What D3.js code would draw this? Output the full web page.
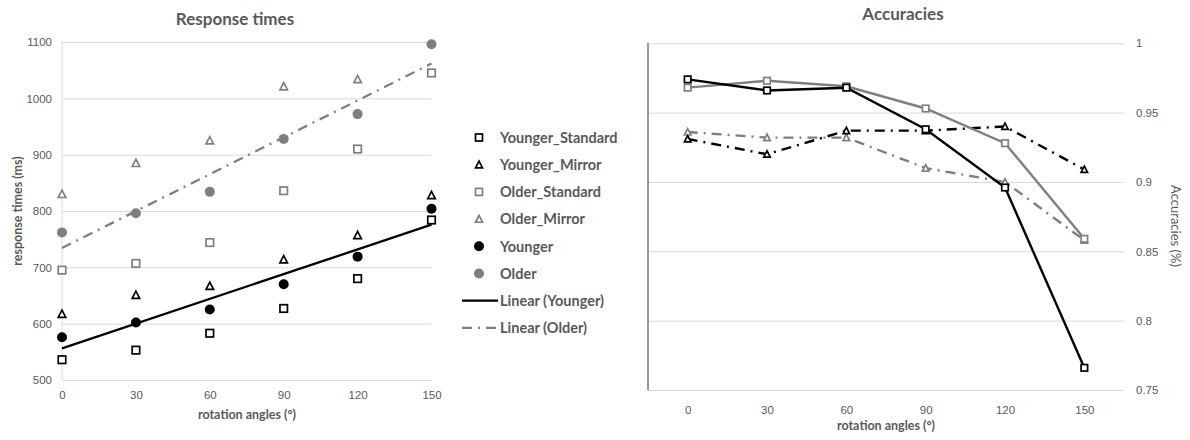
<!DOCTYPE html>
<html>
<head>
<meta charset="utf-8">
<script src="https://cdn.jsdelivr.net/npm/d3@7"></script>
<style>
  body { margin: 0; background: #fff; }
  svg { font-family: Lato, "Open Sans", sans-serif; }
</style>
</head>
<body>
<svg id="chart" width="1190" height="440"></svg>
<script>
// data
var angles = [0, 30, 60, 90, 120, 150];

var rtYoungerStandard = [536, 553, 583, 627, 680, 784];
var rtYoungerMirror   = [617, 651, 667, 714, 757, 828];
var rtOlderStandard   = [695, 707, 744, 836, 910, 1045];
var rtOlderMirror     = [830, 885, 925, 1021, 1034, 1147];
var rtYounger         = [576, 602, 625, 670, 719, 804];
var rtOlder           = [762, 796, 834, 928, 972, 1096];
var rtTicks = [500, 600, 700, 800, 900, 1000, 1100];

var accYoungerStandard = [0.974, 0.966, 0.968, 0.938, 0.896, 0.766];
var accYoungerMirror   = [0.931, 0.920, 0.937, 0.937, 0.940, 0.909];
var accOlderStandard   = [0.968, 0.973, 0.969, 0.953, 0.928, 0.859];
var accOlderMirror     = [0.936, 0.932, 0.932, 0.910, 0.900, 0.858];
var accTicks = [0.75, 0.8, 0.85, 0.9, 0.95, 1];

var legendNames = ["Younger_Standard", "Younger_Mirror", "Older_Standard", "Older_Mirror",
                   "Younger", "Older", "Linear (Younger)", "Linear (Older)"];

var BLACK = "#000", GRAY = "#7f7f7f", TXT = "#595959", GRID = "#d9d9d9";
var DASHDOT = "10,6,2,6";

var svg = d3.select("#chart");

// marker helpers
function marker(g, type, color, x, y, size) {
  if (type == "square") {
    g.append("rect").attr("x", x - size / 2).attr("y", y - size / 2)
      .attr("width", size).attr("height", size)
      .attr("fill", "#fff").attr("stroke", color).attr("stroke-width", 1.7);
  } else if (type == "triangle") {
    var h = size * 0.9;
    g.append("path")
      .attr("d", `M${x},${y - h / 2 - 0.5}L${x + size / 2},${y + h / 2}L${x - size / 2},${y + h / 2}Z`)
      .attr("fill", "#fff").attr("stroke", color).attr("stroke-width", 1.7);
  } else {
    g.append("circle").attr("cx", x).attr("cy", y).attr("r", size / 2)
      .attr("fill", color);
  }
}

function linearFit(xs, ys) {
  var mx = d3.mean(xs), my = d3.mean(ys);
  var num = d3.sum(xs, (d, i) => (d - mx) * (ys[i] - my));
  var den = d3.sum(xs, d => (d - mx) * (d - mx));
  var slope = num / den;
  return {slope: slope, intercept: my - slope * mx};
}

// ---------------- RESPONSE TIMES ----------------
(function () {
  var x = d3.scaleLinear().domain([0, 150]).range([62, 431.5]);
  var y = d3.scaleLinear().domain([500, 1100]).range([380, 42]);

  var g = svg.append("g");

  svg.append("defs").append("clipPath").attr("id", "clipRT")
    .append("rect").attr("x", 50).attr("y", 36).attr("width", 400).attr("height", 350);

  g.append("g")
    .attr("transform", "translate(62,0)")
    .call(d3.axisLeft(y).tickValues(rtTicks).tickFormat(d3.format("d"))
      .tickSize(-(431.5 - 62)).tickPadding(10))
    .call(a => a.select(".domain").remove())
    .call(a => a.selectAll("line").attr("stroke", GRID))
    .call(a => a.selectAll("text").attr("fill", TXT).style("font-size", "11.5px"));

  g.append("line").attr("x1", 62).attr("x2", 62).attr("y1", 42).attr("y2", 380)
    .attr("stroke", GRID);

  g.append("g")
    .attr("transform", "translate(0,380)")
    .call(d3.axisBottom(x).tickValues(angles).tickSize(0).tickPadding(11))
    .call(a => a.select(".domain").attr("stroke", GRID))
    .call(a => a.selectAll("text").attr("fill", TXT).style("font-size", "11.5px"));

  var plot = g.append("g").attr("clip-path", "url(#clipRT)");

  // trend lines
  var fits = [
    {fit: linearFit(angles, rtYounger), color: BLACK, dash: null},
    {fit: linearFit(angles, rtOlder), color: GRAY, dash: DASHDOT}
  ];
  fits.forEach(function (f) {
    plot.append("line")
      .attr("x1", x(0)).attr("y1", y(f.fit.intercept))
      .attr("x2", x(150)).attr("y2", y(f.fit.intercept + f.fit.slope * 150))
      .attr("stroke", f.color).attr("stroke-width", 2.3)
      .attr("stroke-dasharray", f.dash);
  });

  var series = [
    {v: rtYoungerStandard, type: "square", color: BLACK, size: 7.5},
    {v: rtYoungerMirror, type: "triangle", color: BLACK, size: 7.5},
    {v: rtOlderStandard, type: "square", color: GRAY, size: 7.5},
    {v: rtOlderMirror, type: "triangle", color: GRAY, size: 7.5},
    {v: rtYounger, type: "circle", color: BLACK, size: 10},
    {v: rtOlder, type: "circle", color: GRAY, size: 10}
  ];
  series.forEach(function (s) {
    s.v.forEach(function (d, i) { marker(plot, s.type, s.color, x(angles[i]), y(d), s.size); });
  });

  g.append("text").attr("x", 235).attr("y", 25).attr("text-anchor", "middle")
    .attr("fill", TXT).style("font-size", "17px").style("font-weight", "bold")
    .text("Response times");

  g.append("text").attr("x", 247).attr("y", 419).attr("text-anchor", "middle")
    .attr("fill", TXT).style("font-size", "12.5px").style("font-weight", "bold")
    .text("rotation angles (°)");

  g.append("text").attr("transform", "translate(22,211) rotate(-90)").attr("text-anchor", "middle")
    .attr("fill", TXT).style("font-size", "12.5px").style("font-weight", "bold")
    .text("response times (ms)");

  // legend
  var lg = svg.append("g");
  var legendMarks = [
    {type: "square", color: BLACK, size: 7},
    {type: "triangle", color: BLACK, size: 7},
    {type: "square", color: GRAY, size: 7},
    {type: "triangle", color: GRAY, size: 7},
    {type: "circle", color: BLACK, size: 10},
    {type: "circle", color: GRAY, size: 10},
    {type: "line", color: BLACK, dash: null},
    {type: "line", color: GRAY, dash: DASHDOT}
  ];
  legendNames.forEach(function (name, i) {
    var ly = 137.5 + i * 27.2;
    var m = legendMarks[i];
    if (m.type == "line") {
      lg.append("line").attr("x1", 462).attr("x2", 498).attr("y1", ly).attr("y2", ly)
        .attr("stroke", m.color).attr("stroke-width", 2.3).attr("stroke-dasharray", m.dash);
    } else {
      marker(lg, m.type, m.color, 479, ly, m.size);
    }
    lg.append("text").attr("x", 500).attr("y", ly).attr("dy", "0.36em")
      .attr("fill", TXT).style("font-size", "14.5px").style("font-weight", "bold")
      .text(name);
  });
})();

// ---------------- ACCURACIES ----------------
(function () {
  var x = d3.scalePoint().domain(angles).range([648, 1124]).padding(0.5);
  var y = d3.scaleLinear().domain([0.75, 1]).range([390, 43.3]);

  var g = svg.append("g");

  g.append("g")
    .attr("transform", "translate(1124,0)")
    .call(d3.axisRight(y).tickValues(accTicks).tickFormat(d3.format("~g"))
      .tickSize(-(1124 - 648)).tickPadding(12))
    .call(a => a.select(".domain").remove())
    .call(a => a.selectAll("line").attr("stroke", GRID))
    .call(a => a.selectAll("text").attr("fill", TXT).style("font-size", "11.5px"));

  g.append("line").attr("x1", 648).attr("x2", 648).attr("y1", 43).attr("y2", 390)
    .attr("stroke", "#7a7a7a").attr("stroke-width", 1.5);

  g.append("g")
    .attr("transform", "translate(0,390)")
    .call(d3.axisBottom(x).tickSize(0).tickPadding(16))
    .call(a => a.select(".domain").remove())
    .call(a => a.selectAll("text").attr("fill", TXT).style("font-size", "11.5px"));

  var series = [
    {v: accOlderMirror, type: "triangle", color: GRAY, dash: DASHDOT},
    {v: accYoungerMirror, type: "triangle", color: BLACK, dash: DASHDOT},
    {v: accOlderStandard, type: "square", color: GRAY, dash: null},
    {v: accYoungerStandard, type: "square", color: BLACK, dash: null}
  ];
  var line = d3.line().x((d, i) => x(angles[i])).y(d => y(d));
  series.forEach(function (s) {
    g.append("path").datum(s.v).attr("d", line)
      .attr("fill", "none").attr("stroke", s.color).attr("stroke-width", 2.4)
      .attr("stroke-dasharray", s.dash);
  });
  series.forEach(function (s) {
    s.v.forEach(function (d, i) { marker(g, s.type, s.color, x(angles[i]), y(d), 6.5); });
  });

  g.append("text").attr("x", 903).attr("y", 20).attr("text-anchor", "middle")
    .attr("fill", TXT).style("font-size", "17px").style("font-weight", "bold")
    .text("Accuracies");

  g.append("text").attr("x", 886).attr("y", 430).attr("text-anchor", "middle")
    .attr("fill", TXT).style("font-size", "12.5px").style("font-weight", "bold")
    .text("rotation angles (°)");

  g.append("text").attr("transform", "translate(1171,226) rotate(90)").attr("text-anchor", "middle")
    .attr("fill", TXT).style("font-size", "13px")
    .text("Accuracies (%)");
})();
</script>
</body>
</html>
